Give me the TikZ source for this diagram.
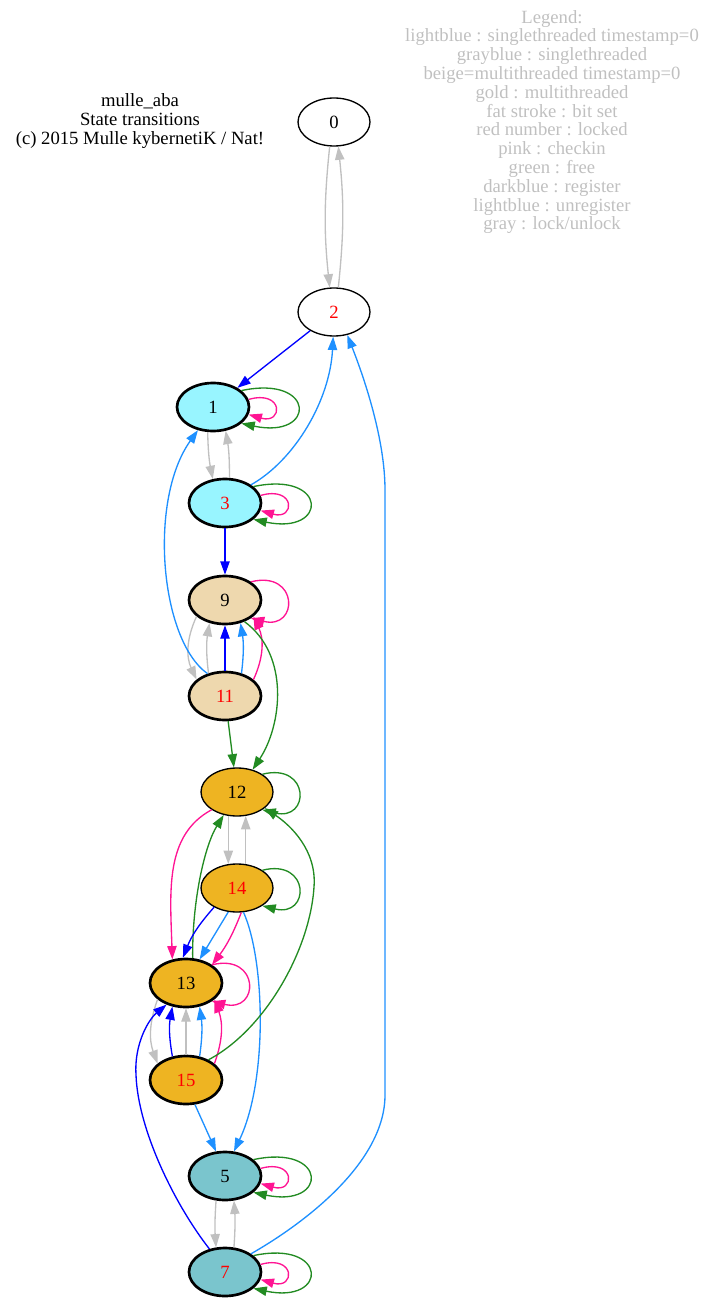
\documentclass[tikz,border=0pt]{standalone}
\usepackage{fontspec}
\setmainfont{Liberation Serif}
\usetikzlibrary{shapes.geometric,arrows.meta}
\definecolor{lgray}{HTML}{C0C0C0}
\definecolor{dblue}{HTML}{1E90FF}
\definecolor{dpink}{HTML}{FF1493}
\definecolor{fgreen}{HTML}{228B22}
\definecolor{cblue}{HTML}{98F5FF}
\definecolor{wheat}{HTML}{EED8AE}
\definecolor{gold}{HTML}{EEB422}
\definecolor{gblue}{HTML}{7AC5CD}
\tikzset{
  state/.style={ellipse, draw, minimum width=54pt, minimum height=36pt, inner sep=0pt, line width=1pt, font=\fontsize{14}{16}\selectfont},
  fat/.style={line width=2pt},
  lck/.style={text=red},
  tr/.style={-{Triangle[length=10pt,width=7pt]}, line width=1pt},
  gry/.style={tr, lgray},
  reg/.style={tr, blue},
  unreg/.style={tr, dblue},
  chk/.style={tr, dpink},
  fre/.style={tr, fgreen}
}
\begin{document}
\begin{tikzpicture}[x=0.75pt, y=0.75pt]
  \useasboundingbox (0,0) rectangle (714,-1301);
  \node[align=center, font=\fontsize{14}{14.25}\selectfont] (title) at (140,-121) {mulle\_aba\\State transitions\\(c) 2015 Mulle kybernetiK / Nat!};
  \node[align=center, text=lgray, font=\fontsize{14}{14.1}\selectfont] (legend) at (552,-122) {Legend:\\lightblue : singlethreaded timestamp=0\\grayblue : singlethreaded\\beige=multithreaded timestamp=0\\gold : multithreaded\\fat stroke : bit set\\red number : locked\\pink : checkin\\green : free\\darkblue : register\\lightblue : unregister\\gray : lock/unlock};
  % states
  \node[state] (s0) at (334,-122) {0};
  \node[state, lck] (s2) at (334,-312) {2};
  \node[state, fat, fill=cblue] (s1) at (213,-407) {1};
  \node[state, fat, fill=cblue, lck] (s3) at (225,-503) {3};
  \node[state, fat, fill=wheat] (s9) at (225,-600) {9};
  \node[state, fat, fill=wheat, lck] (s11) at (225,-696) {11};
  \node[state, fill=gold] (s12) at (237,-792) {12};
  \node[state, fill=gold, lck] (s14) at (237,-888) {14};
  \node[state, fat, fill=gold] (s13) at (186,-983) {13};
  \node[state, fat, fill=gold, lck] (s15) at (186,-1080) {15};
  \node[state, fat, fill=gblue] (s5) at (225,-1176) {5};
  \node[state, fat, fill=gblue, lck] (s7) at (225,-1272) {7};
  % loops
  \foreach \s in {s1,s3,s5,s7}{
    \draw[chk] (\s.12) .. controls +(35,10) and +(35,-10) .. (\s.-12);
    \draw[fre] (\s.30) .. controls +(75,16) and +(75,-16) .. (\s.-30);
  }
  \draw[chk] (s9.35) .. controls +(48,12) and +(48,-12) .. (s9.-35);
  \draw[fre] (s12.35) .. controls +(48,12) and +(48,-12) .. (s12.-35);
  \draw[fre] (s14.35) .. controls +(48,12) and +(48,-12) .. (s14.-35);
  \draw[chk] (s13.35) .. controls +(48,12) and +(48,-12) .. (s13.-35);
  % transitions
  \draw[gry] (s0.260) to[bend right=6] (s2.100);
  \draw[gry] (s2.80) to[bend right=6] (s0.280);
  \draw[reg] (s2) -- (s1);
  \draw[gry] (s1.258) to[bend right=5] (s3.117);
  \draw[gry] (s3.80) to[bend right=5] (s1.-62);
  \draw[unreg] (s3.35) .. controls (295,-460) and (330,-400) .. (s2.268);
  \draw[reg] (s3) -- (s9);
  \draw[gry] (s9.210) to[bend right=25] (s11.150);
  \draw[gry] (s11.126) to[bend left=8] (s9.236);
  \draw[reg] (s11) -- (s9);
  \draw[unreg] (s11.54) to[bend right=8] (s9.-56);
  \draw[chk] (s11.30) to[bend right=25] (s9.-30);
  \draw[fre] (s9.-48) .. controls (290,-655) and (282,-725) .. (s12.55);
  \draw[unreg] (s11.128) .. controls (160,-640) and (148,-500) .. (s1.237);
  \draw[fre] (s11) -- (s12);
  \draw[chk] (s12.215) .. controls (165,-835) and (170,-890) .. (s13.120);
  \draw[fre] (s13.75) .. controls (192,-900) and (205,-845) .. (s12.240);
  \draw[gry] (s12.250) -- (s14.110);
  \draw[gry] (s14.70) -- (s12.290);
  \draw[reg] (s14.220) to[bend right=10] (s13.97);
  \draw[unreg] (s14.250) -- (s13.60);
  \draw[chk] (s14.-80) to[bend left=8] (s13.35);
  \draw[unreg] (s14.-75) .. controls (265,-960) and (268,-1080) .. (s5.70);
  \draw[gry] (s13.210) to[bend right=20] (s15.150);
  \draw[reg] (s15.120) to[bend left=10] (s13.240);
  \draw[gry] (s15) -- (s13);
  \draw[unreg] (s15.60) to[bend right=8] (s13.-60);
  \draw[chk] (s15.30) to[bend right=20] (s13.-30);
  \draw[fre] (s15.42) .. controls (265,-1030) and (310,-950) .. (314,-887) .. controls (317,-850) and (290,-825) .. (s12.-30);
  \draw[reg] (s7.124) .. controls (175,-1205) and (138,-1130) .. (136,-1075) .. controls (134,-1045) and (148,-1020) .. (s13.228);
  \draw[unreg] (s15.-70) -- (s5.110);
  \draw[gry] (s5.250) to[bend right=4] (s7.110);
  \draw[gry] (s7.70) to[bend right=4] (s5.290);
  \draw[unreg] (s7.35) .. controls (310,-1220) and (385,-1160) .. (385,-1095) -- (385,-490) .. controls (385,-440) and (365,-380) .. (s2.-60);
\end{tikzpicture}
\end{document}
